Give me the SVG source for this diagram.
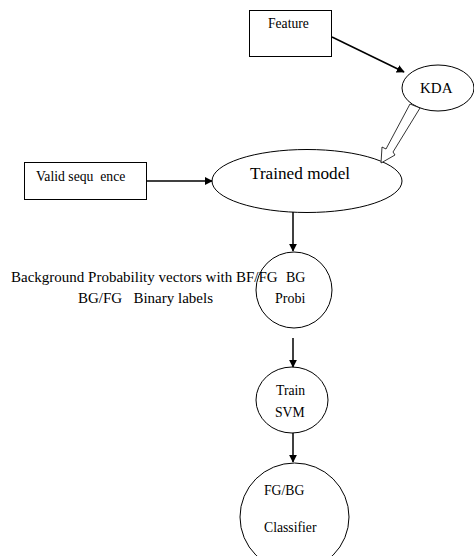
<svg xmlns="http://www.w3.org/2000/svg" width="474" height="556" viewBox="0 0 474 556">
  <style>
    .shape { fill: #fff; stroke: #000; stroke-width: 1; }
    .t { font-family: "Liberation Serif", "Times New Roman", serif; fill: #000; }
    .edge { stroke: #000; stroke-width: 1.5; fill: none; }
  </style>
  <defs>
    <marker id="arrow" viewBox="0 0 10 10" refX="9" refY="5" markerWidth="8" markerHeight="8" markerUnits="userSpaceOnUse" orient="auto">
      <path d="M0,0 L10,5 L0,10 Z" fill="#000"/>
    </marker>
  </defs>
  <rect width="474" height="556" fill="#fff"/>

  <g id="feature">
    <rect class="shape" x="249.5" y="10.5" width="82" height="46"/>
    <text class="t" x="268" y="28" font-size="13.6">Feature</text>
  </g>

  <g id="kda">
    <ellipse class="shape" cx="438" cy="88" rx="36" ry="23"/>
    <text class="t" x="420" y="93" font-size="15">KDA</text>
  </g>

  <g id="valid-sequence">
    <rect class="shape" x="24.5" y="162.5" width="122" height="37"/>
    <text class="t" x="36" y="181" font-size="13.7" xml:space="preserve">Valid sequ  ence</text>
  </g>

  <g id="trained-model">
    <ellipse class="shape" cx="307" cy="181" rx="95" ry="31.5"/>
    <text class="t" x="250" y="179" font-size="17.2">Trained model</text>
  </g>

  <g id="bg-probi">
    <circle class="shape" cx="294" cy="290" r="38"/>
    <text class="t" x="286" y="282" font-size="14">BG</text>
    <text class="t" x="275" y="303" font-size="14">Probi</text>
  </g>

  <g id="labels">
    <text class="t" x="11" y="282" font-size="15">Background Probability vectors with BF/FG</text>
    <text class="t" x="78" y="303" font-size="15" xml:space="preserve">BG/FG   Binary labels</text>
  </g>

  <g id="train-svm">
    <ellipse class="shape" cx="292" cy="400" rx="36" ry="33"/>
    <text class="t" x="276" y="395" font-size="13.7">Train</text>
    <text class="t" x="275" y="417" font-size="13.7">SVM</text>
  </g>

  <g id="classifier">
    <ellipse class="shape" cx="294.5" cy="517" rx="54.5" ry="54"/>
    <text class="t" x="264" y="495" font-size="13.7">FG/BG</text>
    <text class="t" x="264" y="532" font-size="13.7">Classifier</text>
  </g>

  <g id="connectors">
    <line class="edge" x1="332" y1="37" x2="404" y2="72" marker-end="url(#arrow)"/>
    <line class="edge" x1="147" y1="181" x2="212" y2="181" marker-end="url(#arrow)"/>
    <line class="edge" x1="293" y1="212" x2="293" y2="251" marker-end="url(#arrow)"/>
    <line class="edge" x1="293" y1="338" x2="293" y2="367" marker-end="url(#arrow)"/>
    <line class="edge" x1="293" y1="433" x2="293" y2="462" marker-end="url(#arrow)"/>
    <!-- hollow block arrow from KDA into the trained model -->
    <path d="M410,104 L420,108 L393,152 L395,155 L381,163 L382,147 L386,149 Z" fill="#fff" stroke="#000" stroke-width="0.8"/>
  </g>
</svg>
